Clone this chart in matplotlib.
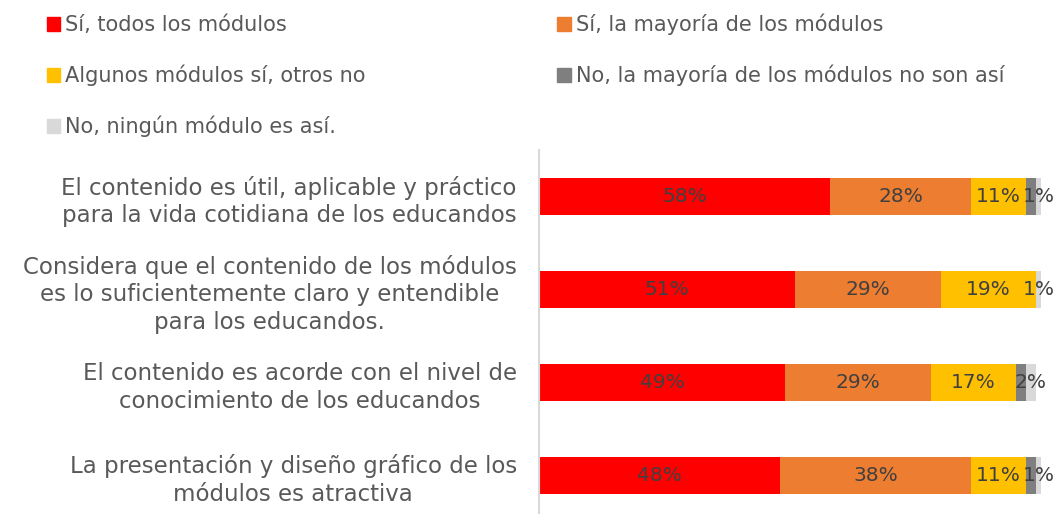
import matplotlib.pyplot as plt
from matplotlib.patches import Patch

plt.rcParams['font.family'] = ['DejaVu Sans']

# Survey items (top to bottom)
items = [
    'El contenido es útil, aplicable y práctico\npara la vida cotidiana de los educandos',
    'Considera que el contenido de los módulos\nes lo suficientemente claro y entendible\npara los educandos.',
    'El contenido es acorde con el nivel de\nconocimiento de los educandos',
    'La presentación y diseño gráfico de los\nmódulos es atractiva',
]

answers = [
    'Sí, todos los módulos',
    'Sí, la mayoría de los módulos',
    'Algunos módulos sí, otros no',
    'No, la mayoría de los módulos no son así',
    'No, ningún módulo es así.',
]

# Percentages per answer, one value per item
todos = [58, 51, 49, 48]
mayoria = [28, 29, 29, 38]
algunos = [11, 19, 17, 11]
mayoria_no = [2, 0, 2, 2]
ninguno = [1, 1, 2, 1]

series = [todos, mayoria, algunos, mayoria_no, ninguno]
colors = ['#FF0000', '#ED7D31', '#FFC000', '#7F7F7F', '#D9D9D9']
# the dark grey segment carries no data label
show_label = [True, True, True, False, True]

fig = plt.figure(figsize=(10.58, 5.14), dpi=100)
ax = fig.add_axes([539 / 1058, -8 / 514, 502 / 1058, 372 / 514])

ypos = list(range(len(items)))
left = [0] * len(items)
for vals, col, lab in zip(series, colors, show_label):
    bars = ax.barh(ypos, vals, left=left, height=0.4, color=col)
    if lab:
        for b, v in zip(bars, vals):
            if v > 0:
                ax.text(b.get_x() + b.get_width() / 2, b.get_y() + b.get_height() / 2,
                        f'{v}%', ha='center', va='center', fontsize=14.5,
                        color='#404040', clip_on=False)
    left = [l + v for l, v in zip(left, vals)]

ax.set_xlim(0, 100)
ax.set_ylim(len(items) - 0.5, -0.5)
ax.set_yticks(ypos)
ax.set_yticklabels(items, fontsize=16.5, color='#595959', multialignment='center',
                   linespacing=1.25)
ax.tick_params(axis='y', length=0, pad=16)
ax.set_xticks([])
for side in ['top', 'right', 'bottom']:
    ax.spines[side].set_visible(False)
ax.spines['left'].set_color('#D9D9D9')
ax.spines['left'].set_linewidth(1.5)

handles = [Patch(color=c) for c in colors]
order = [0, 2, 4, 1, 3]
fig.legend([handles[i] for i in order], [answers[i] for i in order],
           loc='upper left', bbox_to_anchor=(33 / 1058, 1.0), ncol=2, frameon=False,
           fontsize=15, labelcolor='#595959', handlelength=0.65, handleheight=0.65,
           handletextpad=0.25, labelspacing=1.42, columnspacing=9.2,
           borderaxespad=0.25)

fig.savefig('out.png', dpi=100)
